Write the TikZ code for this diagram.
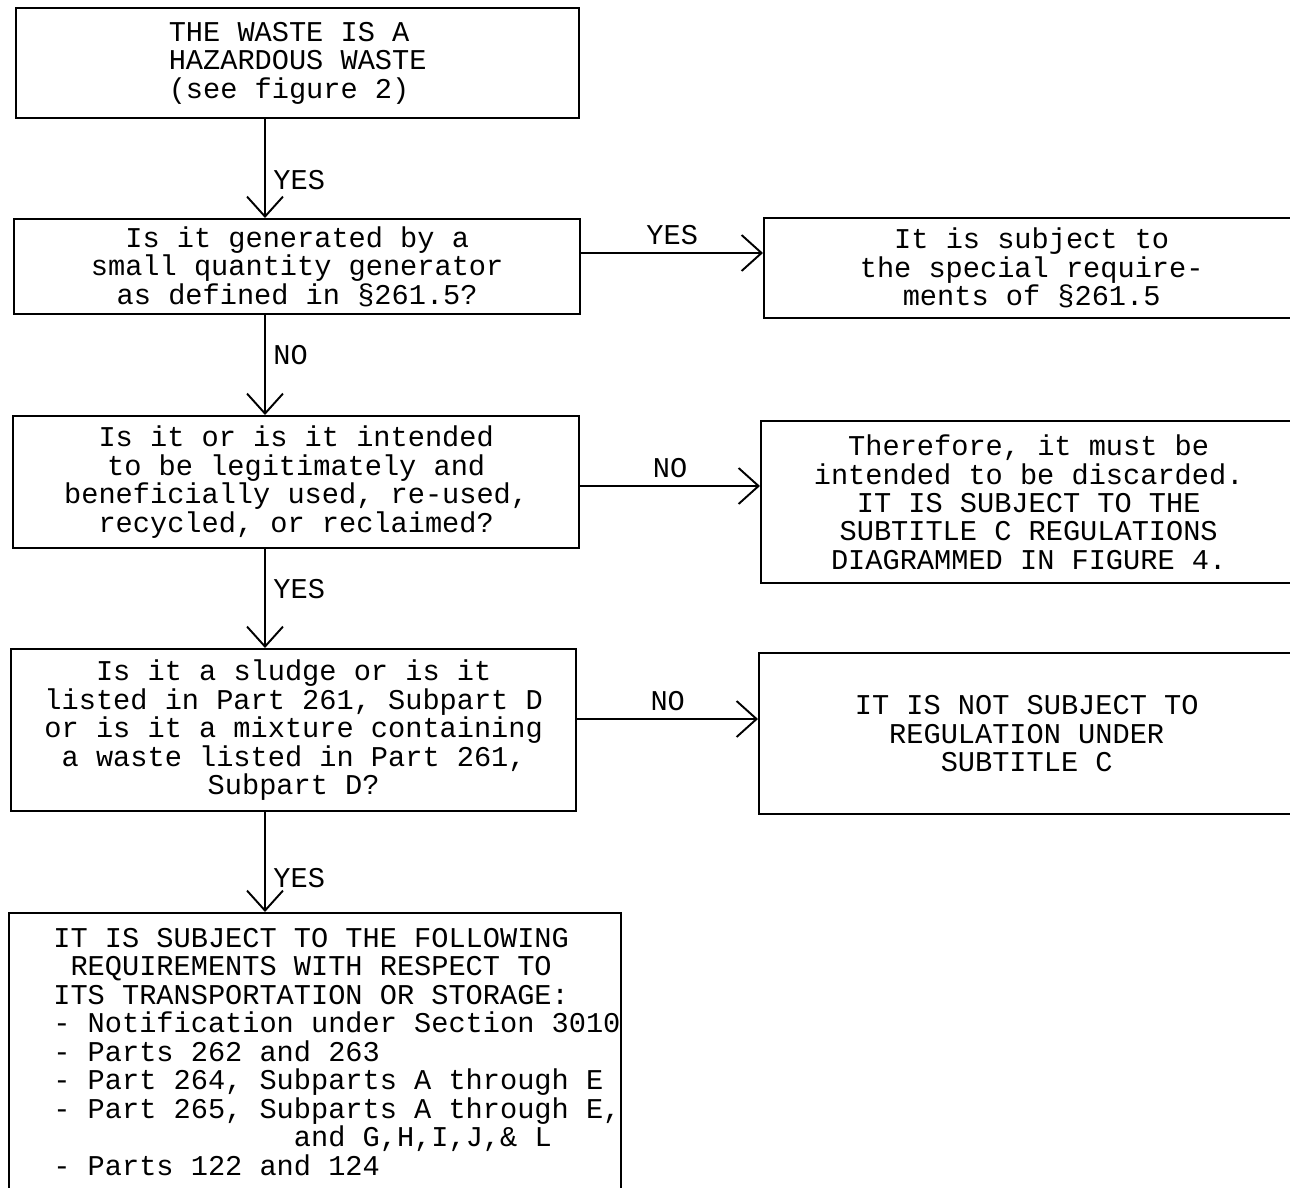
\documentclass[tikz,border=0pt]{standalone}
\usepackage{fontspec}
\setmainfont{Liberation Mono}
\usetikzlibrary{arrows.meta}

\begin{document}
\begin{tikzpicture}[
  box/.style={draw, line width=1.4pt, anchor=north west, align=center,
    font=\fontsize{16.3}{16.2}\selectfont},
  arr/.style={line width=1.1pt, -{Straight Barb[length=.4cm,width=.72cm]}},
  lab/.style={inner sep=.15cm, font=\fontsize{16.3}{16.2}\selectfont}]
\begin{scope}[x=.02cm,y=-.02cm]
\useasboundingbox (0,0) rectangle (1290,1187);
\clip (0,0) rectangle (1290,1187);

% left column
\node[box, align=left, minimum width=11.26cm, minimum height=2.2cm] (waste) at (15,7)
  {THE WASTE IS A\\HAZARDOUS WASTE\\(see figure 2)};
\node[box, minimum width=11.32cm, minimum height=1.9cm] (small) at (13,218)
  {Is it generated by a\\small quantity generator\\as defined in §261.5?};
\node[box, minimum width=11.32cm, minimum height=2.64cm] (reuse) at (12,415)
  {Is it or is it intended\\to be legitimately and\\beneficially used, re-used,\\recycled, or reclaimed?};
\node[box, minimum width=11.3cm, minimum height=3.24cm] (sludge) at (10,648)
  {Is it a sludge or is it\\listed in Part 261, Subpart D\\or is it a mixture containing\\a waste listed in Part 261,\\Subpart D?};
\node[box, minimum width=12.24cm, minimum height=8cm] (req) at (8,912) {};
\node[anchor=north west, align=left, inner sep=0pt,
  font=\fontsize{16.3}{16.2}\selectfont] (reqtext) at (53,928)
  {IT IS SUBJECT TO THE FOLLOWING\\
   \phantom{x}REQUIREMENTS WITH RESPECT TO\\
   ITS TRANSPORTATION OR STORAGE:\\
   - Notification under Section 3010\\
   - Parts 262 and 263\\
   - Part 264, Subparts A through E\\
   - Part 265, Subparts A through E,\\
   \phantom{xxxxxxxxxxxxxx}and G,H,I,J,\& L\\
   - Parts 122 and 124};

% right column
\node[box, minimum width=10.7cm, minimum height=2cm] (special) at (763,217)
  {It is subject to\\the special require-\\ments of §261.5};
\node[box, minimum width=10.7cm, minimum height=3.24cm] (discard) at (760,420)
  {Therefore, it must be\\intended to be discarded.\\IT IS SUBJECT TO THE\\SUBTITLE C REGULATIONS\\DIAGRAMMED IN FIGURE 4.};
\node[box, minimum width=10.7cm, minimum height=3.22cm] (notsub) at (758,652)
  {IT IS NOT SUBJECT TO\\REGULATION UNDER\\SUBTITLE C};

\coordinate (spine) at (265,0);
\coordinate (r1) at (0,253);
\coordinate (r2) at (0,486);
\coordinate (r3) at (0,719);

\draw[arr] (waste.south -| spine) -- (small.north -| spine) node[lab, pos=.62, right] {YES};
\draw[arr] (small.south -| spine) -- (reuse.north -| spine) node[lab, pos=.4, right] {NO};
\draw[arr] (reuse.south -| spine) -- (sludge.north -| spine) node[lab, pos=.4, right] {YES};
\draw[arr] (sludge.south -| spine) -- (req.north -| spine) node[lab, pos=.66, right] {YES};

\draw[arr] (small.east |- r1) -- (special.west |- r1) node[lab, midway, above] {YES};
\draw[arr] (reuse.east |- r2) -- (discard.west |- r2) node[lab, midway, above] {NO};
\draw[arr] (sludge.east |- r3) -- (notsub.west |- r3) node[lab, midway, above] {NO};
\end{scope}
\end{tikzpicture}
\end{document}
